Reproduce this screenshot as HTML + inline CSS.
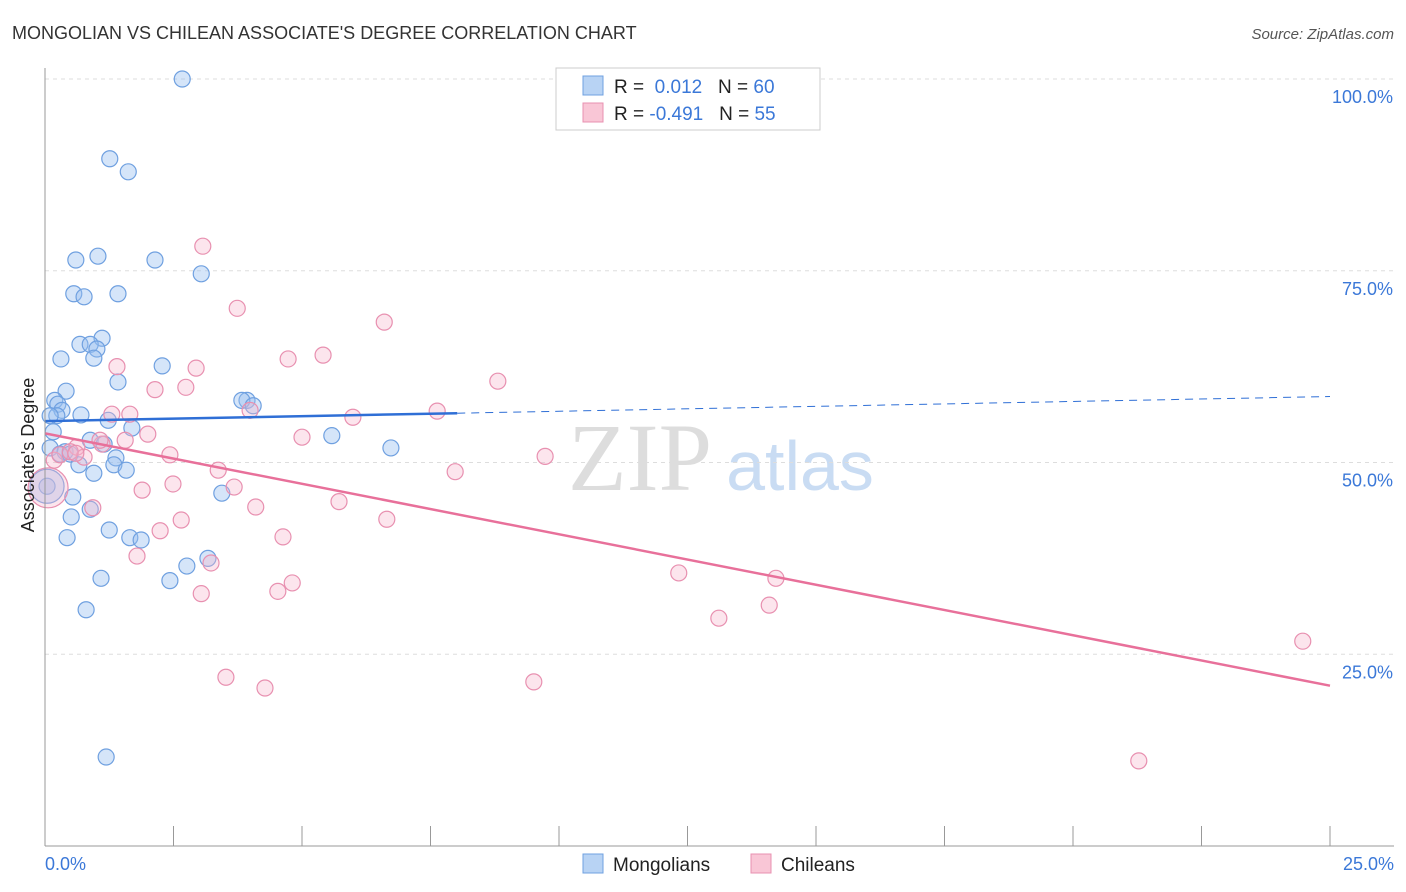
<!DOCTYPE html>
<html><head><meta charset="utf-8"><style>
body{margin:0;background:#fff;font-family:"Liberation Sans",sans-serif}
svg{display:block}
</style></head><body>
<svg width="1406" height="892" id="chart" xmlns="http://www.w3.org/2000/svg">
<text x="12" y="39" font-size="18" fill="#333">MONGOLIAN VS CHILEAN ASSOCIATE'S DEGREE CORRELATION CHART</text>
<text x="1394" y="39" font-size="15" fill="#555" font-style="italic" text-anchor="end">Source: ZipAtlas.com</text>
<text x="640" y="490" font-size="96" fill="#ddd" font-family="Liberation Serif" text-anchor="middle">ZIP</text>
<text x="800" y="490" font-size="70" fill="#c9dcf3" text-anchor="middle">atlas</text>
<g id="grid"></g><g id="ticks"></g><g id="pts"></g><g id="lines"></g>
<line x1="45" y1="68" x2="45" y2="846" stroke="#999"/>
<line x1="45" y1="846" x2="1394" y2="846" stroke="#999"/>
<text transform="translate(34,455) rotate(-90)" font-size="18" fill="#222" text-anchor="middle">Associate's Degree</text>
<text x="45" y="870" font-size="18" fill="#3b78d8">0.0%</text>
<text x="1394" y="870" font-size="18" fill="#3b78d8" text-anchor="end">25.0%</text>
<g>
<rect x="556" y="68" width="264" height="62" fill="#fff" stroke="#ccc"/>
<rect x="583" y="76" width="20" height="19" fill="#b8d3f4" stroke="#6fa0e0"/>
<rect x="583" y="103" width="20" height="19" fill="#f9c6d6" stroke="#e890b0"/>
<text x="614" y="93" font-size="19" fill="#222">R = <tspan fill="#3b78d8">&#160;0.012</tspan>&#160;&#160;&#160;N = <tspan fill="#3b78d8">60</tspan></text>
<text x="614" y="120" font-size="19" fill="#222">R = <tspan fill="#3b78d8">-0.491</tspan>&#160;&#160;&#160;N = <tspan fill="#3b78d8">55</tspan></text>
</g>
<g><rect x="583" y="854" width="20" height="19" fill="#b8d3f4" stroke="#6fa0e0"/><text x="613" y="871" font-size="19" fill="#222">Mongolians</text></g>
<g><rect x="751" y="854" width="20" height="19" fill="#f9c6d6" stroke="#e890b0"/><text x="781" y="871" font-size="19" fill="#222">Chileans</text></g>
</svg>
<script>
const yTicks=[100,75,50,25];
const yTickLabels=["100.0%","75.0%","50.0%","25.0%"];
const xTickVals=[0,2.5,5,7.5,10,12.5,15,17.5,20,22.5,25];
const mongX=[2.67,1.26,1.62,1.03,0.60,2.14,3.04,0.56,0.76,1.42,1.11,0.68,0.88,1.01,0.95,0.31,2.28,1.42,0.41,0.19,0.25,0.33,0.23,0.70,1.23,3.93,3.83,4.05,1.69,0.16,5.58,0.88,1.15,0.10,0.39,0.29,0.49,1.38,6.73,0.66,1.34,1.58,0.95,0.04,3.44,0.54,0.88,0.51,1.25,0.43,1.65,1.87,3.17,2.76,1.09,2.43,0.80,1.19,0.10,0.04];
const mongY=[100.0,89.6,87.9,76.9,76.4,76.4,74.6,72.0,71.6,72.0,66.2,65.4,65.4,64.8,63.6,63.5,62.6,60.5,59.3,58.1,57.6,56.8,56.1,56.2,55.5,58.1,58.1,57.4,54.5,54.0,53.5,52.9,52.4,51.9,51.4,51.1,51.1,50.6,51.9,49.7,49.7,49.0,48.6,46.9,46.0,45.5,43.9,42.9,41.2,40.2,40.2,39.9,37.5,36.5,34.9,34.6,30.8,11.6,56.1,46.9];
const chilX=[3.07,3.74,6.60,5.41,4.73,1.40,2.94,8.81,2.14,2.74,3.99,1.65,1.30,5.99,7.63,2.00,1.56,5.00,1.11,0.62,2.43,9.73,0.76,0.18,3.37,7.98,3.68,2.49,1.89,5.72,4.10,0.93,2.65,6.65,2.24,4.63,1.79,3.23,4.81,4.53,3.04,12.33,14.22,14.09,13.11,3.52,4.28,9.51,24.47,21.28,0.06,0.29,0.49,1.07,0.6];
const chilY=[78.2,70.1,68.3,64.0,63.5,62.5,62.3,60.6,59.5,59.8,56.8,56.3,56.3,55.9,56.7,53.7,52.9,53.3,52.4,52.0,51.0,50.8,50.7,50.3,49.0,48.8,46.8,47.2,46.4,44.9,44.2,44.1,42.5,42.6,41.1,40.3,37.8,36.9,34.3,33.2,32.9,35.6,34.9,31.4,29.7,22.0,20.6,21.4,26.7,11.1,46.7,51.0,51.4,52.9,51.2];
const mongTrend=[55.4,58.6]; const mongSolidEnd=8.02;
const chilTrend=[53.8,20.9];
const X=v=>45+v*(1330-45)/25, Y=v=>846-v*7.67;
const NS="http://www.w3.org/2000/svg";
function mk(p,t,a){const e=document.createElementNS(NS,t);for(const k in a)e.setAttribute(k,a[k]);document.getElementById(p).appendChild(e);return e;}
yTicks.forEach((v,i)=>{
 const l=mk('grid','line',{x1:45,x2:1394,y1:Y(v),y2:Y(v),stroke:'#ddd','stroke-dasharray':'4,4'});
 
 
 const t=mk('grid','text',{x:1393,y:Y(v)+24,'font-size':18,fill:'#3b78d8','text-anchor':'end'});
 t.textContent=yTickLabels[i];
 
 
});
xTickVals.forEach(v=>{
 const l=mk('ticks','line',{x1:X(v),x2:X(v),y1:826,y2:846,stroke:'#999'});
 
 
});
mongX.forEach((v,i)=>{
 const big=(i==mongX.length-1);
 const c=mk('pts','circle',{cx:X(v),cy:Y(mongY[i]),r:big?17:8,fill:'rgba(150,190,240,0.4)',stroke:'#6fa0e0','stroke-width':1.2});
 
 
});
chilX.forEach((v,i)=>{
 const big=(i==50);
 const c=mk('pts','circle',{cx:X(v),cy:Y(chilY[i]),r:big?20:8,fill:'rgba(246,180,204,0.35)',stroke:'#e890b0','stroke-width':1.2});
 
 
});
const ms=mongTrend[0]+(mongTrend[1]-mongTrend[0])*mongSolidEnd/25;
const l1=mk('lines','line',{x1:X(0),y1:Y(mongTrend[0]),x2:X(mongSolidEnd),y2:Y(ms),stroke:'#2f6fd6','stroke-width':2.5});


const l2=mk('lines','line',{x1:X(mongSolidEnd),y1:Y(ms),x2:X(25),y2:Y(mongTrend[1]),stroke:'#2f6fd6','stroke-width':1,'stroke-dasharray':'8,6'});


const l3=mk('lines','line',{x1:X(0),y1:Y(chilTrend[0]),x2:X(25),y2:Y(chilTrend[1]),stroke:'#e8709a','stroke-width':2.5});


</script>
</body></html>
